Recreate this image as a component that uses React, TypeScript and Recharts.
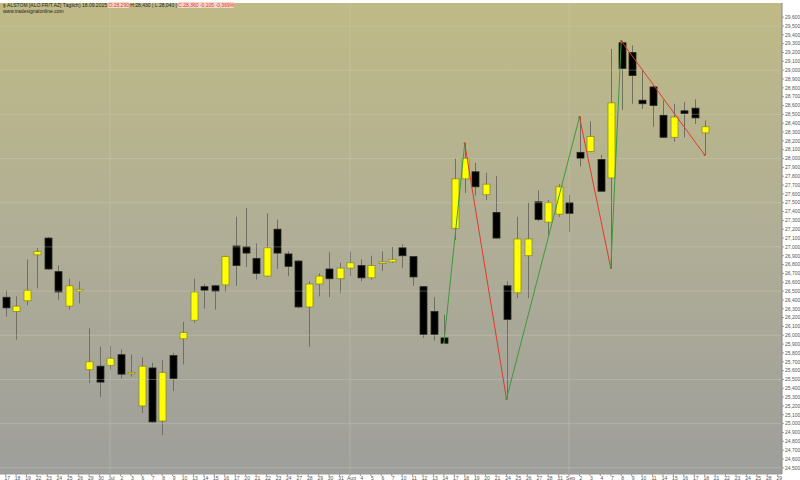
import React from "react";
import {
  ComposedChart,
  Bar,
  Line,
  XAxis,
  YAxis,
  ReferenceLine,
  ReferenceArea,
} from "recharts";

// ---- data ----
const dateLabels = [
  "17","18","19","22","23","24","25","26","29","30",
  "Jul","2","3","6","7","8","9","10","13","14","15","16","17","20","21","22","23","24","27","28","29","30","31",
  "Aug","4","5","6","7","10","11","12","13","14","17","18","19","20","21","24","25","26","27","28","31",
  "Sep","2","3","4","7","8","9","10","11","14","15","16","17","18","21","22","23","24","25","28","29",
];

const openValues = [
  26.43, 26.27, 26.39, 26.91, 27.10, 26.72, 26.33, 26.50, 25.61, 25.65,
  25.66, 25.78, 25.57, 25.20, 25.63, 25.03, 25.77, 25.96, 26.17, 26.55,
  26.56, 26.57, 27.01, 27.00, 26.87, 26.67, 27.20, 26.92, 26.84, 26.32,
  26.58, 26.75, 26.64, 26.76, 26.79, 26.65, 26.82, 26.83, 26.99, 26.89,
  26.55, 26.27, 25.97, 27.21, 27.77, 27.85, 27.59, 27.39, 26.56, 26.48,
  26.90, 27.51, 27.28, 27.37, 27.50, 28.07, 28.08, 27.99, 27.78, 29.31,
  29.20, 28.66, 28.81, 28.49, 28.24, 28.54, 28.57, 28.29,
];
const highValues = [
  26.51, 26.44, 26.86, 26.99, 27.11, 26.79, 26.64, 26.61, 26.08, 25.87,
  25.88, 25.84, 25.78, 25.75, 25.69, 25.72, 25.80, 26.15, 26.64, 26.58,
  26.57, 26.90, 27.34, 27.44, 27.04, 27.38, 27.31, 26.95, 26.85, 26.61,
  26.70, 26.94, 26.82, 26.95, 26.86, 26.90, 26.95, 27.00, 27.03, 26.89,
  26.55, 26.43, 26.23, 28.00, 28.17, 27.95, 27.84, 27.80, 26.61, 27.34,
  27.50, 27.64, 27.53, 27.71, 27.59, 28.47, 28.42, 28.04, 29.24, 29.33,
  29.28, 29.00, 28.83, 28.66, 28.62, 28.64, 28.67, 28.43,
];
const lowValues = [
  26.21, 25.95, 26.34, 26.53, 26.74, 26.40, 26.29, 26.36, 25.46, 25.30,
  25.61, 25.51, 25.53, 25.12, 25.01, 24.87, 25.37, 25.67, 26.14, 26.30,
  26.29, 26.49, 26.56, 26.77, 26.63, 26.66, 26.75, 26.67, 26.31, 25.87,
  26.44, 26.43, 26.48, 26.67, 26.61, 26.63, 26.73, 26.82, 26.76, 26.56,
  25.97, 25.94, 25.91, 27.08, 27.61, 27.58, 27.53, 27.10, 25.28, 26.42,
  26.42, 27.29, 27.13, 27.34, 27.17, 27.91, 28.08, 27.63, 26.76, 28.55,
  28.62, 28.56, 28.36, 28.24, 28.19, 28.24, 28.39, 28.04,
];
const closeValues = [
  26.31, 26.33, 26.51, 26.95, 26.75, 26.49, 26.56, 26.52, 25.70, 25.47,
  25.74, 25.56, 25.58, 25.65, 25.02, 25.58, 25.51, 26.03, 26.49, 26.51,
  26.50, 26.89, 26.79, 26.93, 26.70, 26.99, 26.93, 26.78, 26.32, 26.58,
  26.67, 26.64, 26.76, 26.82, 26.65, 26.79, 26.83, 26.86, 26.90, 26.66,
  26.01, 26.01, 25.91, 27.77, 28.00, 27.68, 27.71, 27.10, 26.18, 27.09,
  27.09, 27.31, 27.50, 27.68, 27.38, 28.00, 28.25, 27.63, 28.63, 29.02,
  28.94, 28.62, 28.60, 28.24, 28.47, 28.51, 28.46, 28.36,
];

// zigzag pivots (index into dates, price)
const pivotIndex = [42, 44, 48, 55, 58, 59, 67];
const pivotValue = [25.91, 28.17, 25.28, 28.47, 26.76, 29.33, 28.04];

const monthStarts = [10, 33, 54];
const gridValues = [24.5, 25, 25.5, 26, 26.5, 27, 27.5, 28, 28.5, 29, 29.5];
const yTicks = Array.from({ length: 52 }, (_, k) => Math.round((24.5 + k * 0.1) * 10) / 10);

// ---- build table ----
const data = dateLabels.map((label, i) => {
  const row: any = { i, label };
  if (i < openValues.length) {
    row.open = openValues[i];
    row.high = highValues[i];
    row.low = lowValues[i];
    row.close = closeValues[i];
    row.range = [lowValues[i], highValues[i]];
  }
  for (let k = 0; k < pivotIndex.length - 1; k++) {
    if (i === pivotIndex[k]) row["zz" + k] = pivotValue[k];
    if (i === pivotIndex[k + 1]) row["zz" + k] = pivotValue[k + 1];
  }
  return row;
});

const Candle = (props: any) => {
  let { x, y, width, height, payload } = props;
  if (!payload || payload.open == null) return null;
  if (height < 0) {
    y = y + height;
    height = -height;
  }
  const { open, close, high, low } = payload;
  const cx = Math.round(x + width / 2) + 0.5;
  const ratio = high - low > 0 ? height / (high - low) : 0;
  const up = close >= open;
  const bodyTop = y + (high - Math.max(open, close)) * ratio;
  let bodyH = Math.abs(open - close) * ratio;
  if (bodyH < 1.5) bodyH = 1.5;
  const bw = 7;
  return (
    <g>
      <line x1={cx} x2={cx} y1={y} y2={y + height} stroke="#6f6f62" strokeWidth={1} />
      <rect
        x={cx - bw / 2}
        y={bodyTop}
        width={bw}
        height={bodyH}
        fill={up ? "#ffff00" : "#000000"}
        stroke={up ? "#8c8a2c" : "#2a2a22"}
        strokeWidth={0.8}
      />
    </g>
  );
};

const legColors = ["#3c9a3c", "#e2392c", "#3c9a3c", "#e2392c", "#3c9a3c", "#e2392c"];

const fmtY = (v: number) => v.toFixed(3).replace(".", ",");

export default function App() {
  return (
    <div
      style={{
        position: "absolute",
        left: 0,
        top: 0,
        width: 800,
        height: 480,
        background: "#ffffff",
        overflow: "hidden",
        fontFamily: "'Liberation Sans', Arial, sans-serif",
      }}
    >
      <ComposedChart
        width={800}
        height={480}
        data={data}
        margin={{ top: 3, right: 0, bottom: 0, left: 0 }}
      >
        <defs>
          <linearGradient id="bgGrad" x1="0" y1="0" x2="0" y2="1">
            <stop offset="0%" stopColor="#bfba86" />
            <stop offset="50%" stopColor="#b0ae96" />
            <stop offset="100%" stopColor="#9e9e9b" />
          </linearGradient>
        </defs>
        <XAxis
          dataKey="i"
          type="number"
          domain={[-0.546, 74.41]}
          allowDataOverflow
          ticks={dateLabels.map((_, i) => i)}
          interval={0}
          tickFormatter={(v: number) => dateLabels[v] ?? ""}
          height={6}
          tickSize={2}
          tickMargin={0}
          tick={{ fontSize: 5, fill: "#555", dx: 1.5 }}
          axisLine={{ stroke: "#999" }}
          tickLine={{ stroke: "#999" }}
        />
        <YAxis
          orientation="right"
          type="number"
          domain={[24.43, 29.76]}
          allowDataOverflow
          ticks={yTicks}
          interval={0}
          tickFormatter={fmtY}
          width={18}
          tickSize={2}
          tickMargin={1}
          tick={{ fontSize: 5, fill: "#555" }}
          axisLine={{ stroke: "#888" }}
          tickLine={{ stroke: "#999" }}
        />
        <ReferenceArea
          x1={-0.546}
          x2={74.41}
          y1={24.43}
          y2={29.76}
          fill="url(#bgGrad)"
          fillOpacity={1}
          stroke="none"
          ifOverflow="hidden"
        />
        {gridValues.map((v) => (
          <ReferenceLine key={"h" + v} y={v} stroke="#d2d2bc" strokeOpacity={0.35} strokeWidth={1} />
        ))}
        {monthStarts.map((m) => (
          <ReferenceLine key={"v" + m} x={m} stroke="#d2d2bc" strokeOpacity={0.35} strokeWidth={1} />
        ))}
        <Bar dataKey="range" barSize={7} shape={<Candle />} isAnimationActive={false} />
        {legColors.map((c, k) => (
          <Line
            key={"zz" + k}
            dataKey={"zz" + k}
            stroke={c}
            strokeWidth={1}
            connectNulls
            dot={{ r: 1, fill: c, stroke: "none" }}
            activeDot={false}
            isAnimationActive={false}
            type="linear"
          />
        ))}
      </ComposedChart>
      <div
        style={{
          position: "absolute",
          left: 3,
          top: 2,
          fontSize: 5,
          lineHeight: "6px",
          color: "#222",
          whiteSpace: "nowrap",
        }}
      >
        <div>
          <span style={{ color: "#7a6a00" }}>▮</span> ALSTOM [ALO.FR/T.AZ] Täglich) 18.09.2015{" "}
          <span style={{ color: "#e03030", background: "#f3d9c9" }}>O:28,290</span>{" "}
          H:28,430 | L:28,040 |{" "}
          <span style={{ color: "#e03030", background: "#f3d9c9" }}>C:28,360 -0,105 -0,369%</span>
        </div>
        <div>www.tradesignalonline.com</div>
      </div>
    </div>
  );
}
